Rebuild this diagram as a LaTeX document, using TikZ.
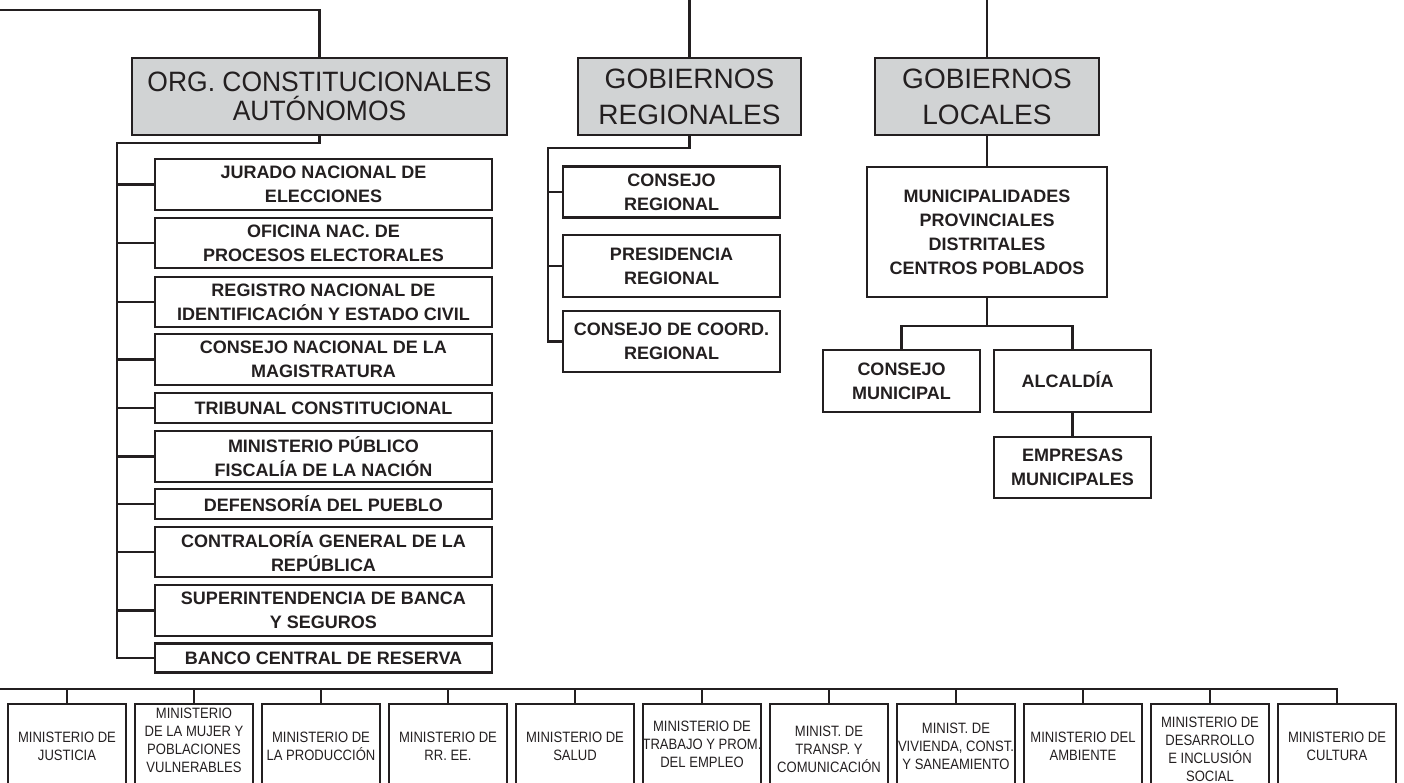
\documentclass[tikz,border=0pt]{standalone}
\usepackage{fontspec}
\setmainfont{Liberation Sans}
\newfontfamily\orgfont[FakeStretch=0.945]{Liberation Sans}
\newfontfamily\minfont[FakeStretch=0.87]{Liberation Sans}
\definecolor{ln}{HTML}{231F20}
\definecolor{hdrfill}{HTML}{D1D3D4}
\tikzset{
  box/.style={draw=ln, line width=2.3pt, inner sep=0pt, align=center, text=ln},
  hdr/.style={box, fill=hdrfill, minimum height=77pt, font=\fontsize{28}{36}\selectfont},
  sub/.style={box, font=\bfseries\fontsize{18}{24}\selectfont},
  mbox/.style={box, minimum width=118pt, minimum height=120pt},
  mtext/.style={inner sep=0pt, align=center, text=ln, font=\minfont\fontsize{15}{18}\selectfont},
  conn/.style={draw=ln, line width=2.3pt},
}
\begin{document}
\begin{tikzpicture}[x=1pt,y=-1pt]
\useasboundingbox (0,0) rectangle (1404,783);
\clip (0,0) rectangle (1404,783);
% headers
\node[hdr, minimum width=375pt, font=\orgfont\fontsize{28}{29}\selectfont] (org) at (319.5,96.5) {ORG. CONSTITUCIONALES\\AUTÓNOMOS};
\node[hdr, minimum width=223pt] (gr) at (689.5,96.5) {GOBIERNOS\\REGIONALES};
\node[hdr, minimum width=224pt] (gl) at (987,96.5) {GOBIERNOS\\LOCALES};
% org children
\node[sub, minimum width=337pt, minimum height=51pt] (jur) at (323.5,184.5) {JURADO NACIONAL DE\\ELECCIONES};
\node[sub, minimum width=337pt, minimum height=50pt] (onp) at (323.5,243) {OFICINA NAC. DE\\PROCESOS ELECTORALES};
\node[sub, minimum width=337pt, minimum height=50pt] (ren) at (323.5,302) {REGISTRO NACIONAL DE\\IDENTIFICACIÓN Y ESTADO CIVIL};
\node[sub, minimum width=337pt, minimum height=51pt] (cnm) at (323.5,359.5) {CONSEJO NACIONAL DE LA\\MAGISTRATURA};
\node[sub, minimum width=337pt, minimum height=30pt] (tc) at (323.5,408) {TRIBUNAL CONSTITUCIONAL};
\node[sub, minimum width=337pt, minimum height=51pt] (mp) at (323.5,456.5) {MINISTERIO PÚBLICO\\FISCALÍA DE LA NACIÓN};
\node[sub, minimum width=337pt, minimum height=30pt] (dp) at (323.5,504) {DEFENSORÍA DEL PUEBLO};
\node[sub, minimum width=337pt, minimum height=50pt] (cgr) at (323.5,552) {CONTRALORÍA GENERAL DE LA\\REPÚBLICA};
\node[sub, minimum width=337pt, minimum height=51pt] (sbs) at (323.5,610.5) {SUPERINTENDENCIA DE BANCA\\Y SEGUROS};
\node[sub, minimum width=337pt, minimum height=29pt] (bcr) at (323.5,658) {BANCO CENTRAL DE RESERVA};
% regional children
\node[sub, minimum width=217pt, minimum height=51pt] (cr) at (671.5,192) {CONSEJO\\REGIONAL};
\node[sub, minimum width=217pt, minimum height=62pt] (pr) at (671.5,266) {PRESIDENCIA\\REGIONAL};
\node[sub, minimum width=217pt, minimum height=61pt] (ccr) at (671.5,341.5) {CONSEJO DE COORD.\\REGIONAL};
% local children
\node[sub, minimum width=240pt, minimum height=130pt] (mun) at (987,232) {MUNICIPALIDADES\\PROVINCIALES\\DISTRITALES\\CENTROS POBLADOS};
\node[sub, minimum width=157pt, minimum height=62pt] (cm) at (901.5,381) {CONSEJO\\MUNICIPAL};
\node[sub, minimum width=157pt, minimum height=62pt] (alc) at (1072.5,381) {ALCALDÍA\vphantom{g}\hspace*{10pt}};
\node[sub, minimum width=157pt, minimum height=61pt] (emp) at (1072.5,467.5) {EMPRESAS\\MUNICIPALES};
% ministries (boxes run below the page edge)
\foreach \i/\x in {1/67,2/194,3/321,4/448,5/575,6/702,7/829,8/956,9/1083,10/1210,11/1337}
  \node[mbox] (m\i) at (\x,764) {};
\node[mtext] (m1t) at (67,746) {MINISTERIO DE\\JUSTICIA};
\node[mtext] (m2t) at (194,740) {MINISTERIO\\DE LA MUJER Y\\POBLACIONES\\VULNERABLES};
\node[mtext] (m3t) at (321,746) {MINISTERIO DE\\LA PRODUCCIÓN};
\node[mtext] (m4t) at (448,746) {MINISTERIO DE\\RR. EE.};
\node[mtext] (m5t) at (575,746) {MINISTERIO DE\\SALUD};
\node[mtext] (m6t) at (702,744) {MINISTERIO DE\\TRABAJO Y PROM.\\DEL EMPLEO};
\node[mtext] (m7t) at (829,749) {MINIST. DE\\TRANSP. Y\\COMUNICACIÓN};
\node[mtext] (m8t) at (956,746) {MINIST. DE\\VIVIENDA, CONST.\\Y SANEAMIENTO};
\node[mtext] (m9t) at (1083,746) {MINISTERIO DEL\\AMBIENTE};
\node[mtext] (m10t) at (1210,749) {MINISTERIO DE\\DESARROLLO\\E INCLUSIÓN\\SOCIAL};
\node[mtext] (m11t) at (1337,746) {MINISTERIO DE\\CULTURA};
% coordinates
\coordinate (top) at (0,-3);
\coordinate (tl) at (0,10);
\coordinate (ov) at (117,143);
\coordinate (rv) at (548,148);
\coordinate (lh) at (901.5,326);
\coordinate (ml) at (0,689);
% connectors
\draw[conn] (tl) -| (org.north);
\draw[conn] (gr.north) -- (gr.north |- top);
\draw[conn] (gl.north) -- (gl.north |- top);
\draw[conn] (org.south) |- (ov) -- (ov |- bcr.west) -- (bcr.west);
\foreach \n in {jur,onp,ren,cnm,tc,mp,dp,cgr,sbs}
  \draw[conn] (ov |- \n.west) -- (\n.west);
\draw[conn] (gr.south) |- (rv) -- (rv |- ccr.west) -- (ccr.west);
\foreach \n in {cr,pr}
  \draw[conn] (rv |- \n.west) -- (\n.west);
\draw[conn] (gl.south) -- (mun.north);
\draw[conn] (mun.south) -- (mun.south |- lh);
\draw[conn] (cm.north) |- (lh) -| (alc.north);
\draw[conn] (alc.south) -- (emp.north);
\draw[conn] (ml) -| (m11.north);
\foreach \i in {1,...,10}
  \draw[conn] (m\i.north) -- (m\i.north |- ml);
\end{tikzpicture}
\end{document}
